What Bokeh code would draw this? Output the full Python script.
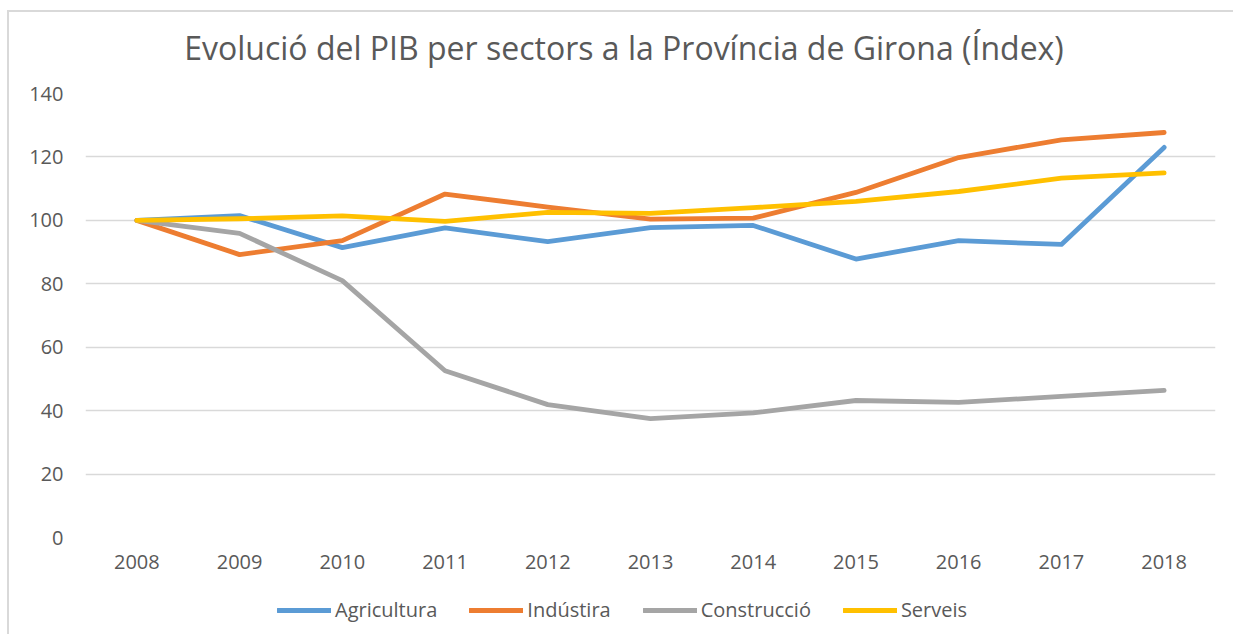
from bokeh.plotting import figure
from bokeh.models import Legend, LegendItem, FixedTicker, Range1d, FactorRange, Div
from bokeh.layouts import column
from bokeh.embed import file_html
from bokeh.resources import INLINE

years = ["2008", "2009", "2010", "2011", "2012", "2013", "2014", "2015", "2016", "2017", "2018"]
agricultura = [100, 101.5, 91.4, 97.6, 93.3, 97.7, 98.4, 87.8, 93.6, 92.4, 123.0]
industria = [100, 89.2, 93.6, 108.3, 104.2, 100.4, 100.7, 108.8, 119.8, 125.4, 127.7]
construccio = [100, 95.9, 81.0, 52.6, 41.9, 37.5, 39.3, 43.2, 42.6, 44.5, 46.4]
serveis = [100, 100.5, 101.4, 99.7, 102.5, 102.2, 104.0, 106.0, 109.1, 113.3, 115.0]
y_ticks = [0, 20, 40, 60, 80, 100, 120, 140]

names = ["Agricultura", "Indústira", "Construcció", "Serveis"]
colors = ["#5B9BD5", "#ED7D31", "#A5A5A5", "#FFC000"]
series = [agricultura, industria, construccio, serveis]
title_text = "Evolució del PIB per sectors a la Província de Girona (Índex)"

FONT = "Open Sans"
TXT = "#595959"

title_div = Div(width=1224, height=66, margin=0,
                text=('<div style="margin-top:17px;padding-left:6px;box-sizing:border-box;'
                      'width:1224px;text-align:center;'
                      'font-family:\'Open Sans\';font-size:32px;line-height:1.2;color:#595959;">'
                      + title_text + '</div>'))

p = figure(width=1224, height=507, x_range=years, y_range=(0, 140),
           output_backend="svg", toolbar_location=None,
           min_border_left=76, min_border_right=18, min_border_top=15, min_border_bottom=48)
p.x_range.range_padding = 0
p.outline_line_color = None

p.yaxis.ticker = FixedTicker(ticks=y_ticks)
for ax in (p.xaxis[0], p.yaxis[0]):
    ax.axis_line_color = None
    ax.major_tick_line_color = None
    ax.minor_tick_line_color = None
    ax.major_tick_out = 0
    ax.major_tick_in = 0
    ax.major_label_text_font = FONT
    ax.major_label_text_font_size = "20px"
    ax.major_label_text_color = TXT
p.yaxis.major_label_standoff = 22
p.xaxis.major_label_standoff = 17

p.xgrid.grid_line_color = None
p.ygrid.grid_line_color = "#d9d9d9"
p.ygrid.grid_line_width = 1.5

for name, col, ys in zip(names, colors, series):
    p.line(years, ys, line_color=col, line_width=4.8, line_join="round", line_cap="round")

# legend strip below the chart (its lines lie outside its visible range)
q = figure(width=1224, height=49, x_range=FactorRange(*years), y_range=Range1d(1000, 1001),
           output_backend="svg", toolbar_location=None,
           min_border_left=0, min_border_right=0, min_border_top=0, min_border_bottom=0)
q.x_range.range_padding = 0
q.axis.visible = False
q.grid.visible = False
q.outline_line_color = None
items = []
for name, col, ys in zip(names, colors, series):
    r = q.line(years, ys, line_color=col, line_width=4.8, line_cap="round")
    items.append(LegendItem(label=name, renderers=[r]))
legend = Legend(items=items, orientation="horizontal", location=(192, 11),
                glyph_width=54, glyph_height=20, label_standoff=4, spacing=32,
                padding=0, margin=0, border_line_color=None, background_fill_alpha=0,
                label_text_font=FONT, label_text_font_size="20px", label_text_color=TXT)
q.add_layout(legend, "center")

layout = column(title_div, p, q, spacing=0,
                styles={"margin-left": "7px", "margin-top": "10px",
                        "border-top": "2px solid #d9d9d9", "border-left": "2px solid #d9d9d9"})

open("out.html", "w").write(file_html(layout, INLINE))
